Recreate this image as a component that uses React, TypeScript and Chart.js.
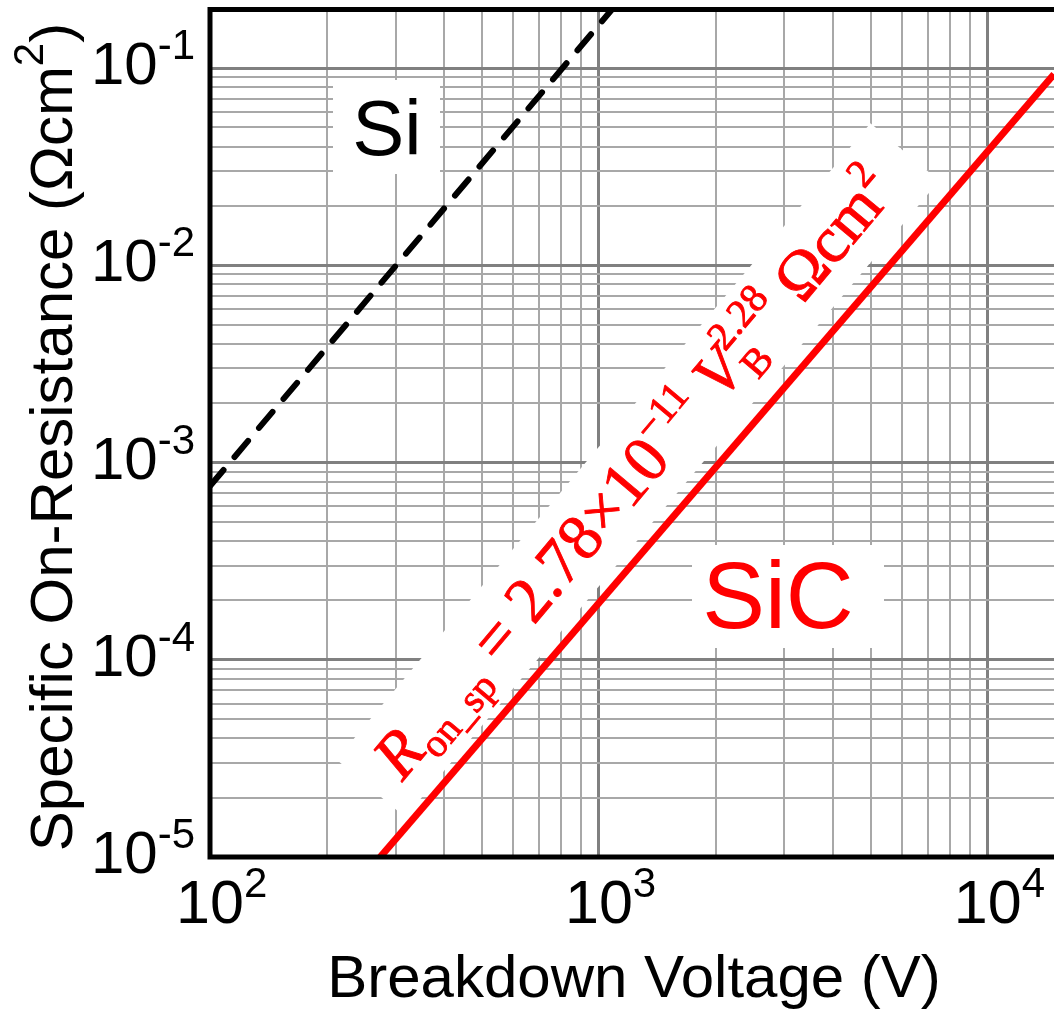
import { useEffect, useRef } from 'react';
import { Chart, registerables } from 'chart.js';

Chart.register(...registerables);

// ---- data ----
const siVoltage = [100, 1080];
const siResistance = [7.6e-4, 0.198];
const sicVoltage = [274, 14800];
const sicResistance = [1e-5, 0.093];

const xRange = [100, 14800];
const yRange = [1e-5, 0.198];

const xTickValues = [100, 1000, 10000];
const xTickExponents = ['2', '3', '4'];
const yTickValues = [1e-5, 1e-4, 1e-3, 1e-2, 1e-1];
const yTickExponents = ['-5', '-4', '-3', '-2', '-1'];

const xTitle = 'Breakdown Voltage (V)';
const yTitleMain = 'Specific On-Resistance (Ωcm';
const yTitleSup = '2';
const yTitleEnd = ')';

const SANS = '"Liberation Sans", Arial, sans-serif';
const SERIF = '"Liberation Serif", "Times New Roman", serif';
const RED = '#ff0000';

const mantissa = (v: number) => v / Math.pow(10, Math.floor(Math.log10(v) + 1e-9));
const isInt = (m: number) => Math.abs(m - Math.round(m)) < 1e-6;
const isMajor = (v: number) => Math.abs(Math.log10(v) - Math.round(Math.log10(v))) < 1e-6;

const FORMULA_F = 65;
const FORMULA_ANGLE = (-50 * Math.PI) / 180;
const FORMULA_CX = 650;
const FORMULA_CY = 487;

type Seg = { t: string; style: string; scale: number; dy: number; hold?: boolean };
const formulaSegs: Seg[] = [
  { t: 'R', style: 'italic ', scale: 1, dy: 0 },
  { t: 'on_sp', style: '', scale: 0.62, dy: 0.2 },
  { t: ' = 2.78×10', style: '', scale: 1, dy: 0 },
  { t: '−11', style: '', scale: 0.62, dy: -0.42 },
  { t: ' ', style: '', scale: 1, dy: 0 },
  { t: 'V', style: 'italic ', scale: 1, dy: 0 },
  { t: 'B', style: '', scale: 0.62, dy: 0.22, hold: true },
  { t: '2.28', style: '', scale: 0.62, dy: -0.45 },
  { t: ' Ωcm', style: '', scale: 1, dy: 0 },
  { t: '2', style: '', scale: 0.62, dy: -0.42 },
];

function formula(ctx: CanvasRenderingContext2D, F: number, x0: number, draw: boolean) {
  let x = 0;
  let pending = 0;
  for (const s of formulaSegs) {
    ctx.font = `${s.style}${Math.round(F * s.scale)}px ${SERIF}`;
    const w = ctx.measureText(s.t).width;
    if (draw) {
      ctx.fillText(s.t, x0 + x, s.dy * F);
      ctx.strokeText(s.t, x0 + x, s.dy * F);
    }
    if (s.hold) {
      pending = w;
    } else {
      x += Math.max(w, pending);
      pending = 0;
    }
  }
  return x;
}

const decorPlugin = {
  id: 'decor',
  beforeDatasetsDraw(chart: any) {
    const ctx: CanvasRenderingContext2D = chart.ctx;
    const { left, top, right, bottom } = chart.chartArea;
    ctx.save();
    ctx.beginPath();
    ctx.rect(left, top, right - left, bottom - top);
    ctx.clip();
    ctx.fillStyle = '#ffffff';
    // white backgrounds behind the labels
    ctx.fillRect(333, 80, 107, 94);
    ctx.fillRect(692, 545, 192, 103);
    ctx.translate(FORMULA_CX, FORMULA_CY);
    ctx.rotate(FORMULA_ANGLE);
    const W = formula(ctx, FORMULA_F, 0, false);
    ctx.fillRect(-W / 2 - 25, -FORMULA_F * 1.0, W + 60, FORMULA_F * 1.38);
    ctx.restore();
  },
  afterDraw(chart: any) {
    const ctx: CanvasRenderingContext2D = chart.ctx;
    const { left, top, right, bottom } = chart.chartArea;
    const xs = chart.scales.x;
    const ys = chart.scales.y;
    ctx.save();

    // frame
    ctx.strokeStyle = '#000';
    ctx.lineWidth = 5;
    ctx.lineCap = 'butt';
    ctx.beginPath();
    ctx.moveTo(left - 2.5, top);
    ctx.lineTo(right, top);
    ctx.moveTo(left, top);
    ctx.lineTo(left, bottom);
    ctx.moveTo(left - 2.5, bottom);
    ctx.lineTo(right, bottom);
    ctx.stroke();

    ctx.fillStyle = '#000';
    ctx.textBaseline = 'alphabetic';
    ctx.textAlign = 'left';

    // x tick labels
    xTickValues.forEach((v, i) => {
      const px = xs.getPixelForValue(v);
      ctx.font = `61px ${SANS}`;
      const w = ctx.measureText('10').width;
      ctx.fillText('10', px - w / 2, bottom + 66);
      ctx.font = `42px ${SANS}`;
      ctx.fillText(xTickExponents[i], px + w / 2, bottom + 40);
    });

    // y tick labels
    yTickValues.forEach((v, i) => {
      const py = ys.getPixelForValue(v);
      ctx.font = `60px ${SANS}`;
      const w10 = ctx.measureText('10').width;
      ctx.font = `42px ${SANS}`;
      const ws = ctx.measureText(yTickExponents[i]).width;
      const start = 195 - ws - w10;
      ctx.font = `60px ${SANS}`;
      ctx.fillText('10', start, py + 16);
      ctx.font = `42px ${SANS}`;
      ctx.fillText(yTickExponents[i], start + w10, py - 9);
    });

    // x title
    ctx.font = `60px ${SANS}`;
    ctx.textAlign = 'center';
    ctx.fillText(xTitle, 634, 997);

    // y title (rotated)
    ctx.save();
    ctx.translate(72, 437);
    ctx.rotate(-Math.PI / 2);
    ctx.textAlign = 'left';
    ctx.font = `60px ${SANS}`;
    const w1 = ctx.measureText(yTitleMain).width;
    const w3 = ctx.measureText(yTitleEnd).width;
    ctx.font = `42px ${SANS}`;
    const w2 = ctx.measureText(yTitleSup).width;
    const tot = w1 + w2 + w3;
    let sx = -tot / 2;
    ctx.font = `60px ${SANS}`;
    ctx.fillText(yTitleMain, sx, 0);
    sx += w1;
    ctx.font = `42px ${SANS}`;
    ctx.fillText(yTitleSup, sx, -29);
    sx += w2;
    ctx.font = `60px ${SANS}`;
    ctx.fillText(yTitleEnd, sx, 0);
    ctx.restore();

    // series labels
    ctx.textAlign = 'center';
    ctx.font = `78px ${SANS}`;
    ctx.fillStyle = '#000';
    ctx.fillText('Si', 387, 155);
    ctx.font = `94px ${SANS}`;
    ctx.fillStyle = RED;
    ctx.fillText('SiC', 778, 628);

    // formula
    ctx.textAlign = 'left';
    ctx.fillStyle = RED;
    ctx.strokeStyle = RED;
    ctx.lineWidth = 0.9;
    ctx.translate(FORMULA_CX, FORMULA_CY);
    ctx.rotate(FORMULA_ANGLE);
    const W = formula(ctx, FORMULA_F, 0, false);
    formula(ctx, FORMULA_F, -W / 2, true);

    ctx.restore();
  },
};

export default function App() {
  const ref = useRef<HTMLCanvasElement>(null);
  useEffect(() => {
    const canvas = ref.current as HTMLCanvasElement;
    const gridOpts = {
      drawTicks: false,
      color: (c: any) => (c.tick && isMajor(c.tick.value) ? '#808080' : '#a8a8a8'),
      lineWidth: (c: any) => (c.tick && isMajor(c.tick.value) ? 3 : 2),
    };
    const keepTicks = (s: any) => {
      s.ticks = s.ticks.filter((t: any) => isInt(mantissa(t.value)));
    };
    const chart = new Chart(canvas, {
      type: 'line',
      data: {
        datasets: [
          {
            label: 'Si',
            data: siVoltage.map((v, i) => ({ x: v, y: siResistance[i] })),
            borderColor: '#000000',
            borderWidth: 6,
            borderDash: [21, 17],
            borderCapStyle: 'round',
            pointRadius: 0,
            fill: false,
            tension: 0,
            clip: 0,
          },
          {
            label: 'SiC',
            data: sicVoltage.map((v, i) => ({ x: v, y: sicResistance[i] })),
            borderColor: RED,
            borderWidth: 7,
            pointRadius: 0,
            fill: false,
            tension: 0,
            clip: 0,
          },
        ],
      },
      options: {
        responsive: false,
        animation: false,
        devicePixelRatio: 1,
        events: [],
        layout: { padding: { left: 210, top: 9.5, right: 0, bottom: 155 } },
        plugins: {
          legend: { display: false },
          tooltip: { enabled: false },
          title: { display: false },
        },
        scales: {
          x: {
            type: 'logarithmic',
            min: xRange[0],
            max: xRange[1],
            ticks: { display: false, autoSkip: false },
            grid: gridOpts,
            border: { display: false },
            afterBuildTicks: keepTicks,
            afterFit: (s: any) => {
              s.height = 0;
            },
          },
          y: {
            type: 'logarithmic',
            min: yRange[0],
            max: yRange[1],
            ticks: { display: false, autoSkip: false },
            grid: gridOpts,
            border: { display: false },
            afterBuildTicks: keepTicks,
            afterFit: (s: any) => {
              s.width = 0;
            },
          },
        },
      } as any,
      plugins: [decorPlugin],
    });
    return () => chart.destroy();
  }, []);
  return (
    <div style={{ position: 'fixed', left: 0, top: 0, width: 1054, height: 1012, background: '#ffffff' }}>
      <canvas ref={ref} width={1054} height={1012} style={{ display: 'block' }} />
    </div>
  );
}
